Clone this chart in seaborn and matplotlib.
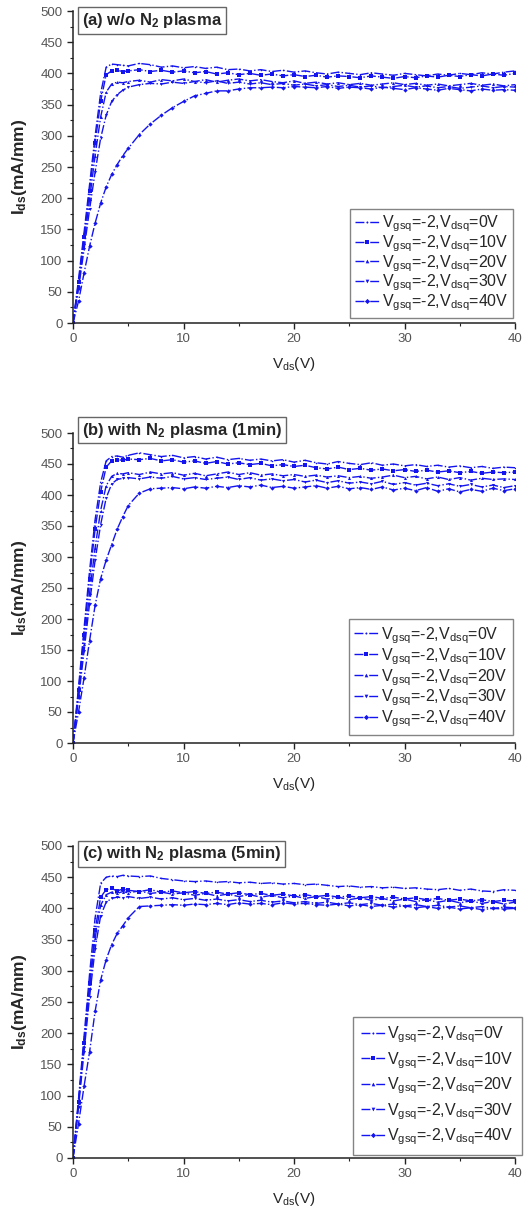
import numpy as np
import pandas as pd
import matplotlib
matplotlib.use("Agg")
import matplotlib.pyplot as plt
import seaborn as sns
from matplotlib.ticker import MultipleLocator

# drain voltage sweep (V)
VDS = [0, 0.5, 1, 1.5, 2, 2.5, 3, 3.5, 4, 4.5, 5,
       6, 7, 8, 9, 10, 11, 12, 13, 14, 15, 16, 17, 18, 19, 20,
       21, 22, 23, 24, 25, 26, 27, 28, 29, 30,
       31, 32, 33, 34, 35, 36, 37, 38, 39, 40]

# (a) w/o N2 plasma, Ids in mA/mm
A_0V = [0, 70, 145, 222, 300, 368, 410, 415, 414, 413, 412,
        416, 414, 410, 412, 409, 411, 408, 410, 406, 407, 404, 406, 403, 405, 402,
        404, 401, 399, 402, 400, 398, 401, 399, 397, 400,
        398, 396, 399, 397, 400, 398, 401, 399, 402, 404]
A_10V = [0, 65, 138, 212, 288, 355, 398, 404, 405, 403, 404,
         406, 403, 405, 402, 404, 401, 403, 399, 401, 398, 400, 397, 399, 396, 398,
         395, 397, 394, 396, 395, 393, 396, 394, 392, 395,
         393, 396, 394, 397, 395, 398, 396, 399, 397, 400]
A_20V = [0, 60, 128, 198, 268, 330, 370, 383, 386, 385, 387,
         389, 386, 390, 388, 391, 387, 390, 386, 389, 391, 388, 390, 387, 385, 388,
         384, 386, 383, 385, 382, 384, 381, 383, 385, 382,
         384, 381, 383, 380, 382, 384, 381, 383, 380, 382]
A_30V = [0, 55, 118, 182, 242, 296, 333, 355, 366, 373, 378,
         382, 384, 383, 386, 384, 387, 385, 388, 384, 386, 383, 385, 382, 384, 381,
         383, 380, 382, 379, 381, 378, 380, 377, 379, 381,
         378, 380, 377, 379, 376, 378, 380, 377, 379, 378]
A_40V = [0, 35, 80, 123, 160, 192, 218, 238, 254, 268, 280,
         302, 319, 333, 345, 355, 364, 368, 372, 372, 375, 377, 377, 378, 377, 379,
         378, 377, 379, 376, 378, 377, 375, 378, 376, 374,
         377, 375, 373, 376, 374, 372, 375, 373, 374, 373]

# (b) with N2 plasma (1min)
B_0V = [0, 90, 185, 278, 360, 420, 455, 462, 463, 461, 464,
        468, 465, 462, 464, 460, 462, 458, 461, 457, 459, 456, 458, 455, 457, 453,
        456, 452, 450, 454, 451, 449, 452, 448, 450, 447,
        449, 446, 448, 445, 447, 444, 446, 443, 445, 444]
B_10V = [0, 85, 175, 265, 345, 405, 445, 455, 457, 456, 458,
         457, 459, 455, 457, 453, 455, 451, 454, 450, 452, 449, 451, 447, 449, 446,
         448, 444, 442, 445, 441, 443, 440, 442, 439, 441,
         438, 440, 437, 439, 436, 438, 435, 437, 436, 437]
B_20V = [0, 78, 160, 242, 315, 375, 415, 430, 435, 434, 436,
         433, 437, 434, 436, 432, 435, 431, 434, 437, 433, 436, 432, 434, 431, 433,
         430, 432, 429, 431, 428, 430, 427, 429, 432, 428,
         430, 426, 429, 425, 428, 424, 427, 425, 426, 425]
B_30V = [0, 72, 148, 225, 295, 352, 395, 418, 425, 427, 428,
         426, 429, 427, 430, 426, 428, 425, 427, 429, 425, 428, 424, 426, 423, 425,
         421, 424, 420, 423, 419, 421, 418, 422, 417, 420,
         416, 419, 415, 418, 414, 417, 413, 416, 412, 415]
B_40V = [0, 50, 105, 165, 222, 265, 295, 320, 345, 365, 383,
         403, 410, 411, 412, 410, 413, 411, 414, 412, 415, 413, 416, 412, 414, 411,
         413, 415, 411, 414, 410, 412, 409, 413, 408, 411,
         407, 412, 406, 410, 405, 409, 406, 411, 407, 410]

# (c) with N2 plasma (5min)
C_0V = [0, 95, 195, 295, 385, 440, 450, 452, 451, 453, 452,
        451, 452, 448, 446, 444, 443, 444, 442, 443, 441, 442, 440, 441, 439, 440,
        438, 439, 437, 435, 436, 434, 435, 433, 434, 432,
        433, 431, 430, 432, 429, 431, 428, 427, 430, 429]
C_10V = [0, 90, 185, 280, 365, 418, 430, 432, 428, 431, 429,
         427, 430, 426, 428, 425, 427, 424, 426, 423, 425, 422, 424, 421, 423, 420,
         422, 419, 421, 418, 420, 417, 419, 416, 418, 415,
         417, 414, 416, 413, 415, 412, 414, 411, 413, 412]
C_20V = [0, 88, 180, 272, 352, 405, 422, 426, 424, 427, 425,
         428, 424, 426, 423, 425, 421, 424, 420, 423, 419, 422, 418, 421, 417, 420,
         416, 419, 415, 418, 414, 417, 413, 416, 412, 415,
         411, 414, 410, 413, 409, 412, 408, 411, 407, 410]
C_30V = [0, 82, 170, 258, 335, 388, 410, 416, 418, 417, 419,
         416, 418, 415, 417, 414, 416, 413, 415, 412, 414, 411, 413, 410, 412, 409,
         411, 408, 410, 407, 409, 406, 408, 405, 407, 404,
         406, 403, 405, 402, 404, 401, 403, 400, 402, 401]
C_40V = [0, 55, 115, 170, 235, 285, 318, 342, 360, 372, 385,
         403, 404, 405, 406, 405, 407, 406, 408, 406, 409, 407, 408, 406, 409, 407,
         408, 406, 405, 407, 404, 406, 403, 405, 402, 404,
         401, 403, 400, 402, 399, 401, 398, 400, 399, 400]

PANEL_TITLES = ["(a) w/o N$_2$ plasma",
                "(b) with N$_2$ plasma (1min)",
                "(c) with N$_2$ plasma (5min)"]
LEGEND_LABELS = ["V$_{gsq}$=-2,V$_{dsq}$=0V",
                 "V$_{gsq}$=-2,V$_{dsq}$=10V",
                 "V$_{gsq}$=-2,V$_{dsq}$=20V",
                 "V$_{gsq}$=-2,V$_{dsq}$=30V",
                 "V$_{gsq}$=-2,V$_{dsq}$=40V"]
PANELS = [[A_0V, A_10V, A_20V, A_30V, A_40V],
          [B_0V, B_10V, B_20V, B_30V, B_40V],
          [C_0V, C_10V, C_20V, C_30V, C_40V]]

MARKERS = [".", "s", "^", "v", "D"]
BLUE = "#1414f0"

sns.set_style("ticks")
plt.rcParams["font.family"] = ["Liberation Sans", "DejaVu Sans"]
plt.rcParams["mathtext.default"] = "regular"

W, H = 530, 1211
fig = plt.figure(figsize=(W / 100, H / 100), dpi=100)

# axes boxes in pixels: (left, top, right, bottom)
boxes = [(73, 11, 515, 323), (73, 433, 515, 743), (73, 846, 515, 1158)]
leg_spacing = [-0.05, 0.02, 0.3]
leg_pad = [0.3, 0.35, 0.5]
leg_anchor = [(0.995, 0.016), (0.995, 0.026), (1.015, 0.01)]
title_y = [1.0, 1.04, 1.005]

for i, (box, curves) in enumerate(zip(boxes, PANELS)):
    l, t, r, b = box
    ax = fig.add_axes([l / W, 1 - b / H, (r - l) / W, (b - t) / H])
    for lab, vals, mk in zip(LEGEND_LABELS, curves, MARKERS):
        df = pd.DataFrame({"Vds": VDS, "Ids": vals})
        sns.lineplot(data=df, x="Vds", y="Ids", ax=ax, color=BLUE,
                     linestyle="-.", linewidth=1.0, marker=mk, markersize=2.2,
                     markeredgewidth=0, label=lab)
    ax.set_xlim(0, 40)
    ax.set_ylim(0, 500)
    ax.xaxis.set_major_locator(MultipleLocator(10))
    ax.xaxis.set_minor_locator(MultipleLocator(5))
    ax.yaxis.set_major_locator(MultipleLocator(50))
    ax.yaxis.set_minor_locator(MultipleLocator(25))
    ax.tick_params(which="major", direction="out", length=4, width=1,
                   labelsize=9.5, colors="#222222")
    ax.tick_params(which="minor", direction="out", length=2.5, width=0.8,
                   colors="#222222")
    ax.tick_params(axis="both", labelcolor="#555555")
    sns.despine(ax=ax)
    for s in ("left", "bottom"):
        ax.spines[s].set_linewidth(1.1)
        ax.spines[s].set_color("#222222")
    ax.set_xlabel("V$_{ds}$(V)", fontsize=11, labelpad=7)
    ax.set_ylabel("I$_{ds}$(mA/mm)", fontsize=12.5, fontweight="bold", labelpad=8)
    ax.text(0.02, title_y[i], PANEL_TITLES[i], transform=ax.transAxes,
            ha="left", va="top", fontsize=12, fontweight="bold",
            bbox=dict(boxstyle="square,pad=0.22", facecolor="white",
                      edgecolor="#666666", linewidth=1))
    leg = ax.legend(loc="lower right", bbox_to_anchor=leg_anchor[i],
                    borderaxespad=0, fontsize=11.5, frameon=True, fancybox=False,
                    handlelength=1.5, handletextpad=0.15,
                    labelspacing=leg_spacing[i], borderpad=leg_pad[i],
                    markerscale=1.2)
    leg.get_frame().set_edgecolor("#666666")
    leg.get_frame().set_linewidth(1)

fig.savefig("out.png", dpi=100)
